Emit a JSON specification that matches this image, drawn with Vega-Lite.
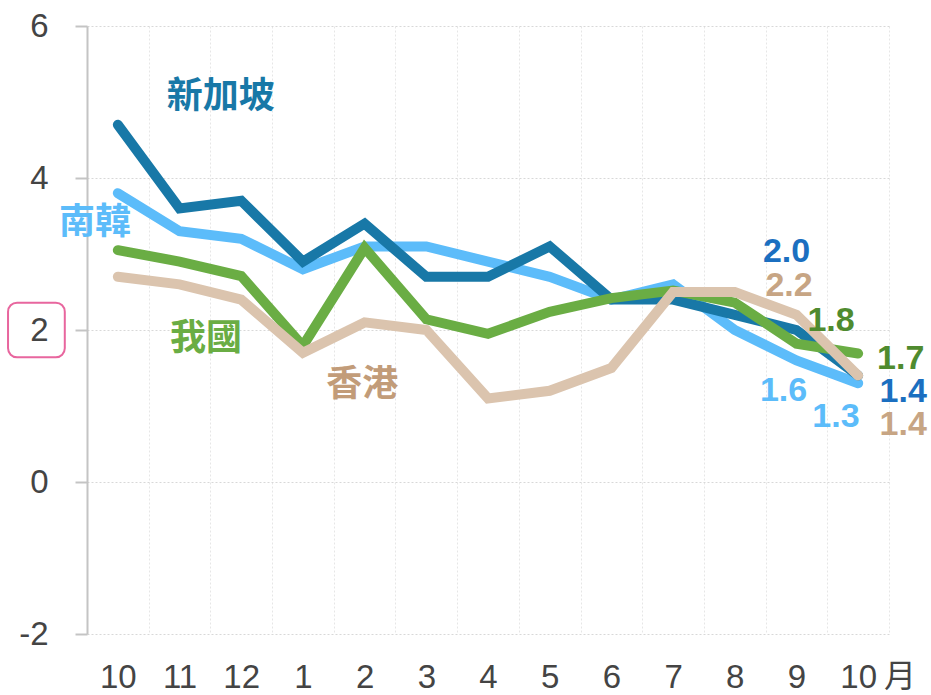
{
  "$schema": "https://vega.github.io/schema/vega-lite/v6.json",
  "autosize": {"type": "none"},
  "padding": {"left": 87, "top": 26, "right": 42, "bottom": 61},
  "width": 802,
  "height": 608,
  "background": "white",
  "config": {"view": {"stroke": null}, "font": "Liberation Sans"},
  "datasets": {
    "series": [
      {"month": "23-10", "series": "南韓", "value": 3.8},
      {"month": "23-11", "series": "南韓", "value": 3.3},
      {"month": "23-12", "series": "南韓", "value": 3.2},
      {"month": "24-01", "series": "南韓", "value": 2.8},
      {"month": "24-02", "series": "南韓", "value": 3.1},
      {"month": "24-03", "series": "南韓", "value": 3.1},
      {"month": "24-04", "series": "南韓", "value": 2.9},
      {"month": "24-05", "series": "南韓", "value": 2.7},
      {"month": "24-06", "series": "南韓", "value": 2.4},
      {"month": "24-07", "series": "南韓", "value": 2.6},
      {"month": "24-08", "series": "南韓", "value": 2.0},
      {"month": "24-09", "series": "南韓", "value": 1.6},
      {"month": "24-10", "series": "南韓", "value": 1.3},
      {"month": "23-10", "series": "新加坡", "value": 4.7},
      {"month": "23-11", "series": "新加坡", "value": 3.6},
      {"month": "23-12", "series": "新加坡", "value": 3.7},
      {"month": "24-01", "series": "新加坡", "value": 2.9},
      {"month": "24-02", "series": "新加坡", "value": 3.4},
      {"month": "24-03", "series": "新加坡", "value": 2.7},
      {"month": "24-04", "series": "新加坡", "value": 2.7},
      {"month": "24-05", "series": "新加坡", "value": 3.1},
      {"month": "24-06", "series": "新加坡", "value": 2.4},
      {"month": "24-07", "series": "新加坡", "value": 2.4},
      {"month": "24-08", "series": "新加坡", "value": 2.2},
      {"month": "24-09", "series": "新加坡", "value": 2.0},
      {"month": "24-10", "series": "新加坡", "value": 1.4},
      {"month": "23-10", "series": "我國", "value": 3.05},
      {"month": "23-11", "series": "我國", "value": 2.9},
      {"month": "23-12", "series": "我國", "value": 2.71},
      {"month": "24-01", "series": "我國", "value": 1.79},
      {"month": "24-02", "series": "我國", "value": 3.08},
      {"month": "24-03", "series": "我國", "value": 2.14},
      {"month": "24-04", "series": "我國", "value": 1.95},
      {"month": "24-05", "series": "我國", "value": 2.24},
      {"month": "24-06", "series": "我國", "value": 2.42},
      {"month": "24-07", "series": "我國", "value": 2.52},
      {"month": "24-08", "series": "我國", "value": 2.36},
      {"month": "24-09", "series": "我國", "value": 1.82},
      {"month": "24-10", "series": "我國", "value": 1.69},
      {"month": "23-10", "series": "香港", "value": 2.7},
      {"month": "23-11", "series": "香港", "value": 2.6},
      {"month": "23-12", "series": "香港", "value": 2.4},
      {"month": "24-01", "series": "香港", "value": 1.7},
      {"month": "24-02", "series": "香港", "value": 2.1},
      {"month": "24-03", "series": "香港", "value": 2.0},
      {"month": "24-04", "series": "香港", "value": 1.1},
      {"month": "24-05", "series": "香港", "value": 1.2},
      {"month": "24-06", "series": "香港", "value": 1.5},
      {"month": "24-07", "series": "香港", "value": 2.5},
      {"month": "24-08", "series": "香港", "value": 2.5},
      {"month": "24-09", "series": "香港", "value": 2.2},
      {"month": "24-10", "series": "香港", "value": 1.4}
    ],
    "names": [
      {"label": "新加坡", "xi": 1.67, "value": 5.07},
      {"label": "南韓", "xi": -0.37, "value": 3.41},
      {"label": "我國", "xi": 1.43, "value": 1.88},
      {"label": "香港", "xi": 3.96, "value": 1.28}
    ],
    "vals": [
      {"series": "新加坡", "text": "2.0", "xi": 10.84, "value": 3.03},
      {"series": "香港", "text": "2.2", "xi": 10.88, "value": 2.58},
      {"series": "我國", "text": "1.8", "xi": 11.56, "value": 2.12},
      {"series": "我國", "text": "1.7", "xi": 12.69, "value": 1.62},
      {"series": "新加坡", "text": "1.4", "xi": 12.73, "value": 1.18},
      {"series": "香港", "text": "1.4", "xi": 12.73, "value": 0.75},
      {"series": "南韓", "text": "1.6", "xi": 10.79, "value": 1.2},
      {"series": "南韓", "text": "1.3", "xi": 11.64, "value": 0.85}
    ]
  },
  "layer": [
    {
      "data": {"name": "series"},
      "mark": {"type": "line", "strokeWidth": 10, "strokeCap": "round"},
      "encoding": {
        "x": {
          "field": "month",
          "type": "ordinal",
          "bandPosition": 0.5,
          "scale": {
            "type": "band",
            "domain": ["23-10", "23-11", "23-12", "24-01", "24-02", "24-03", "24-04", "24-05", "24-06", "24-07", "24-08", "24-09", "24-10"],
            "paddingInner": 0,
            "paddingOuter": 0
          },
          "axis": {
            "title": null,
            "labelExpr": "!isString(datum.value) ? '' : '' + toNumber(substring(datum.value, 3))",
            "labelAngle": 0,
            "labelFont": "Liberation Sans",
            "labelFontSize": 33,
            "labelColor": "#444444",
            "labelPadding": 27,
            "ticks": false,
            "tickSize": 0,
            "domain": false,
            "tickBand": "extent",
            "grid": true,
            "gridColor": "#e6e6e6",
            "gridDash": [2, 2],
            "gridWidth": 1
          }
        },
        "y": {
          "field": "value",
          "type": "quantitative",
          "scale": {"domain": [-2, 6], "nice": false, "zero": false},
          "axis": {
            "title": null,
            "values": [-2, 0, 2, 4, 6],
            "labelExpr": "'' + datum.value",
            "labelFont": "Liberation Sans",
            "labelFontSize": 33,
            "labelColor": "#444444",
            "labelPadding": 27,
            "tickSize": 12,
            "tickColor": "#c4c4c4",
            "tickWidth": 2,
            "domainColor": "#c4c4c4",
            "domainWidth": 2,
            "grid": true,
            "gridColor": "#d8d8d8",
            "gridDash": [2, 2],
            "gridWidth": 1
          }
        },
        "color": {
          "field": "series",
          "type": "nominal",
          "scale": {"domain": ["南韓", "新加坡", "我國", "香港"], "range": ["#5cbcfa", "#1878a7", "#6aad44", "#dbc4ae"]},
          "legend": null
        }
      }
    },
    {
      "data": {"values": [{}]},
      "mark": {"type": "rect", "fill": "white", "fillOpacity": 0, "stroke": "#e8669e", "strokeWidth": 2, "cornerRadius": 9},
      "encoding": {
        "x": {"datum": -1.78, "type": "quantitative", "scale": {"domain": [-0.5, 12.5], "nice": false, "zero": false}, "axis": null},
        "x2": {"datum": -0.86},
        "y": {"datum": 2.36, "type": "quantitative"},
        "y2": {"datum": 1.64}
      }
    },
    {
      "data": {"values": [{"unit": "月"}]},
      "mark": {"type": "text", "font": "Noto Sans CJK TC", "fontSize": 32, "color": "#444444", "align": "center", "baseline": "middle"},
      "encoding": {
        "x": {"datum": 12.68, "type": "quantitative", "scale": {"domain": [-0.5, 12.5], "nice": false, "zero": false}, "axis": null},
        "y": {"datum": -2.56, "type": "quantitative"},
        "text": {"field": "unit"}
      }
    },
    {
      "data": {"name": "names"},
      "mark": {"type": "text", "font": "Noto Sans CJK TC", "fontWeight": "bold", "fontSize": 36, "align": "center", "baseline": "middle"},
      "encoding": {
        "x": {"field": "xi", "type": "quantitative", "scale": {"domain": [-0.5, 12.5], "nice": false, "zero": false}, "axis": null},
        "y": {"field": "value", "type": "quantitative"},
        "text": {"field": "label"},
        "color": {
          "field": "label",
          "type": "nominal",
          "scale": {"domain": ["南韓", "新加坡", "我國", "香港"], "range": ["#5cbcfa", "#1878a7", "#6aad44", "#c29c79"]},
          "legend": null
        }
      }
    },
    {
      "data": {"name": "vals"},
      "mark": {"type": "text", "font": "Liberation Sans", "fontWeight": "bold", "fontSize": 34, "align": "center", "baseline": "middle"},
      "encoding": {
        "x": {"field": "xi", "type": "quantitative", "scale": {"domain": [-0.5, 12.5], "nice": false, "zero": false}, "axis": null},
        "y": {"field": "value", "type": "quantitative"},
        "text": {"field": "text"},
        "color": {
          "field": "series",
          "type": "nominal",
          "scale": {"domain": ["南韓", "新加坡", "我國", "香港"], "range": ["#5cbcfa", "#1b6fc0", "#4f8b2f", "#c7a584"]},
          "legend": null
        }
      }
    }
  ],
  "resolve": {"scale": {"x": "independent", "color": "independent"}}
}
